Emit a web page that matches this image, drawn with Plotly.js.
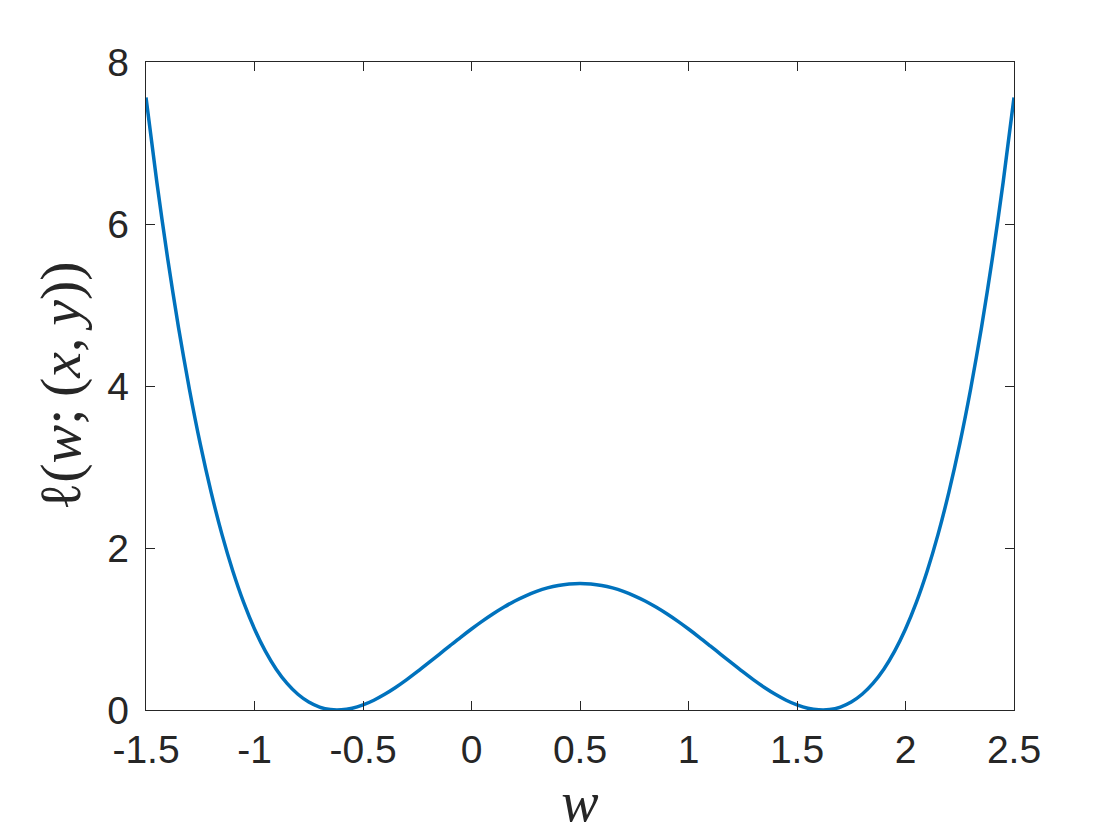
<!DOCTYPE html>
<html>
<head>
<meta charset="utf-8">
<script src="https://cdn.plot.ly/plotly-3.0.1.min.js"></script>
<style>
html,body{margin:0;padding:0;background:#fff;}
#chart{width:1120px;height:840px;}
</style>
</head>
<body>
<div id="chart"></div>
<script>
// Values
const wValues = [-1.5,-1.45,-1.4,-1.35,-1.3,-1.25,-1.2,-1.15,-1.1,-1.05,-1.0,-0.95,-0.9,-0.85,-0.8,-0.75,-0.7,-0.65,-0.6,-0.55,-0.5,-0.45,-0.4,-0.35,-0.3,-0.25,-0.2,-0.15,-0.1,-0.05,0,0.05,0.1,0.15,0.2,0.25,0.3,0.35,0.4,0.45,0.5,0.55,0.6,0.65,0.7,0.75,0.8,0.85,0.9,0.95,1.0,1.05,1.1,1.15,1.2,1.25,1.3,1.35,1.4,1.45,1.5,1.55,1.6,1.65,1.7,1.75,1.8,1.85,1.9,1.95,2.0,2.05,2.1,2.15,2.2,2.25,2.3,2.35,2.4,2.45,2.5];
const lossValues = [7.563,6.515,5.570,4.720,3.960,3.285,2.690,2.168,1.716,1.328,1.000,0.727,0.504,0.328,0.194,0.098,0.036,0.005,0.002,0.022,0.063,0.121,0.194,0.278,0.372,0.473,0.578,0.685,0.792,0.898,1.000,1.097,1.188,1.271,1.346,1.410,1.464,1.507,1.538,1.556,1.563,1.556,1.538,1.507,1.464,1.410,1.346,1.271,1.188,1.097,1.000,0.898,0.792,0.685,0.578,0.473,0.372,0.278,0.194,0.121,0.063,0.022,0.002,0.005,0.036,0.098,0.194,0.328,0.504,0.727,1.000,1.328,1.716,2.168,2.690,3.285,3.960,4.720,5.570,6.515,7.563];
const xTickVals = [-1.5,-1,-0.5,0,0.5,1,1.5,2,2.5];
const xTickText = ['-1.5','-1','-0.5','0','0.5','1','1.5','2','2.5'];
const yTickVals = [0,2,4,6,8];
const yTickText = ['0','2','4','6','8'];

const axisColor = '#262626';
const tickFont = {family:'Liberation Sans, Arial, Helvetica, sans-serif', size:39, color:axisColor};
const mathFontX = {family:'Liberation Serif, Times New Roman, serif', size:56, color:axisColor, style:'italic'};
const mathFontY = {family:'Liberation Serif, Times New Roman, serif', size:58, color:axisColor};

const trace = {
  x: wValues, y: lossValues, type:'scatter', mode:'lines',
  line:{color:'#0072BD', width:3.5, shape:'spline', smoothing:0.8},
  hoverinfo:'none', cliponaxis:true
};

const layout = {
  width:1120, height:840,
  margin:{l:146, r:106, t:62, b:130},
  paper_bgcolor:'#ffffff', plot_bgcolor:'#ffffff',
  showlegend:false,
  xaxis:{
    range:[-1.5,2.5], tickmode:'array', tickvals:xTickVals, ticktext:xTickText,
    ticks:'inside', ticklen:9, tickwidth:1, tickcolor:axisColor,
    showline:true, linecolor:axisColor, linewidth:1.2, mirror:'ticks',
    showgrid:false, zeroline:false, tickfont:tickFont, ticklabelstandoff:5,
    title:{text:'w', font:mathFontX, standoff:2}
  },
  yaxis:{
    range:[0,8], tickmode:'array', tickvals:yTickVals, ticktext:yTickText,
    ticks:'inside', ticklen:9, tickwidth:1, tickcolor:axisColor,
    showline:true, linecolor:axisColor, linewidth:1.2, mirror:'ticks',
    showgrid:false, zeroline:false, tickfont:tickFont, ticklabelstandoff:8,
    title:{text:'ℓ(<i>w</i>;\u2009(<i>x</i>,\u2009<i>y</i>))', font:mathFontY, standoff:8}
  }
};

Plotly.newPlot('chart', [trace], layout, {staticPlot:true, displayModeBar:false});
</script>
</body>
</html>
